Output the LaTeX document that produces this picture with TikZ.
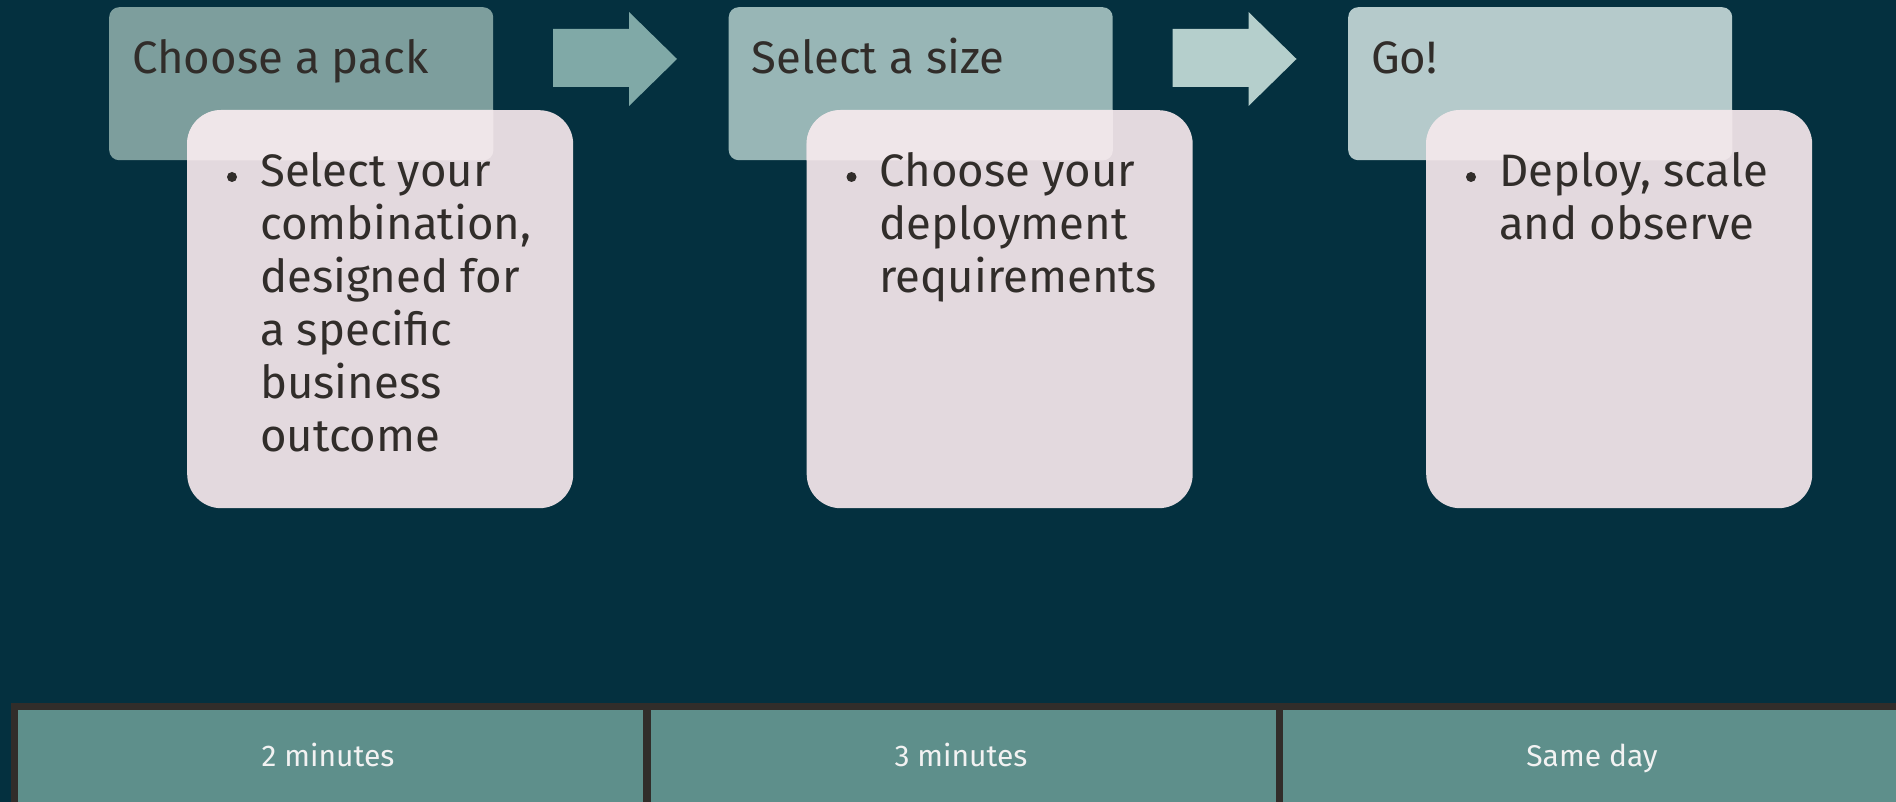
\documentclass[tikz,border=0pt]{standalone}
\usepackage{fontspec}
\setmainfont{Fira Sans}
\definecolor{bgcol}{HTML}{04303F}
\definecolor{tcolA}{HTML}{7D9E9D}
\definecolor{tcolB}{HTML}{98B6B6}
\definecolor{tcolC}{HTML}{B5CACB}
\definecolor{acolA}{HTML}{80A9A7}
\definecolor{acolB}{HTML}{B5CFCC}
\definecolor{bodycol}{HTML}{E3D9DE}
\definecolor{overcol}{HTML}{EFE6E9}
\definecolor{txtcol}{HTML}{312D2A}
\definecolor{cellcol}{HTML}{5E8F8B}
\definecolor{gridcol}{HTML}{312D2A}
\definecolor{celltxt}{HTML}{F2F2F2}
\newcommand{\bigfont}{\fontsize{45.5}{53}\selectfont}
\newcommand{\smallfont}{\fontsize{30}{36}\selectfont}
\begin{document}
\begin{tikzpicture}[x=1pt,y=-1pt,
  titlebox/.style={fill=#1, rounded corners=10pt, inner sep=0pt, minimum width=384pt, minimum height=153pt, anchor=north west},
  bodybox/.style={fill=bodycol, rounded corners=34pt, inner sep=0pt, minimum width=386pt, minimum height=398pt, anchor=north west},
  titletext/.style={anchor=base west, inner sep=0pt, font=\bigfont, text=txtcol},
  bodytext/.style={anchor=base west, inner sep=0pt, font=\bigfont, text=txtcol},
  bulletdot/.style={circle, fill=txtcol, inner sep=0pt, minimum size=10pt},
  cellbox/.style={fill=cellcol, draw=gridcol, line width=7pt, inner sep=0pt, minimum width=632pt, minimum height=110pt, anchor=north west},
  celltext/.style={anchor=base, inner sep=0pt, font=\smallfont, text=celltxt}]
\fill[bgcol] (0,0) rectangle (1896,802);
\useasboundingbox (0,0) rectangle (1896,802);

% group 1
\node[titlebox=tcolA] (t1) at (109,7) {};
\node[bodybox] (b1) at (187,110) {};
\begin{scope}
  \clip[rounded corners=10pt] (t1.north west) rectangle (t1.south east);
  \fill[overcol, rounded corners=34pt] (b1.north west) rectangle (b1.south east);
\end{scope}
\node[titletext] (tt1) at (132,74) {Choose a pack};
\node[bulletdot] (d1) at (232,177) {};
\node[bodytext] (bt1) at (260,187) {\parbox[t]{320pt}{\raggedright Select your\\combination,\\designed for\\a specific\\business\\outcome}};

% arrow 1
\fill[acolA] (553,29) -- (629,29) -- (629,12) -- (677,59) -- (629,106) -- (629,87) -- (553,87) -- cycle;

% group 2
\node[titlebox=tcolB] (t2) at (728.5,7) {};
\node[bodybox] (b2) at (806.5,110) {};
\begin{scope}
  \clip[rounded corners=10pt] (t2.north west) rectangle (t2.south east);
  \fill[overcol, rounded corners=34pt] (b2.north west) rectangle (b2.south east);
\end{scope}
\node[titletext] (tt2) at (751.5,74) {Select a size};
\node[bulletdot] (d2) at (851.5,177) {};
\node[bodytext] (bt2) at (879.5,187) {\parbox[t]{320pt}{\raggedright Choose your\\deployment\\requirements}};

% arrow 2
\fill[acolB] (1172.5,29) -- (1248.5,29) -- (1248.5,12) -- (1296.5,59) -- (1248.5,106) -- (1248.5,87) -- (1172.5,87) -- cycle;

% group 3
\node[titlebox=tcolC] (t3) at (1348,7) {};
\node[bodybox] (b3) at (1426,110) {};
\begin{scope}
  \clip[rounded corners=10pt] (t3.north west) rectangle (t3.south east);
  \fill[overcol, rounded corners=34pt] (b3.north west) rectangle (b3.south east);
\end{scope}
\node[titletext] (tt3) at (1371,74) {Go!};
\node[bulletdot] (d3) at (1471,177) {};
\node[bodytext] (bt3) at (1499,187) {\parbox[t]{320pt}{\raggedright Deploy, scale\\and observe}};

% bottom table
\node[cellbox] (c1) at (11,703) {};
\node[cellbox] (c2) at (644,703) {};
\node[cellbox] (c3) at (1276,703) {};
\node[celltext] (ct1) at (328,766) {2 minutes};
\node[celltext] (ct2) at (961,766) {3 minutes};
\node[celltext] (ct3) at (1592,766) {Same day};
\end{tikzpicture}
\end{document}
